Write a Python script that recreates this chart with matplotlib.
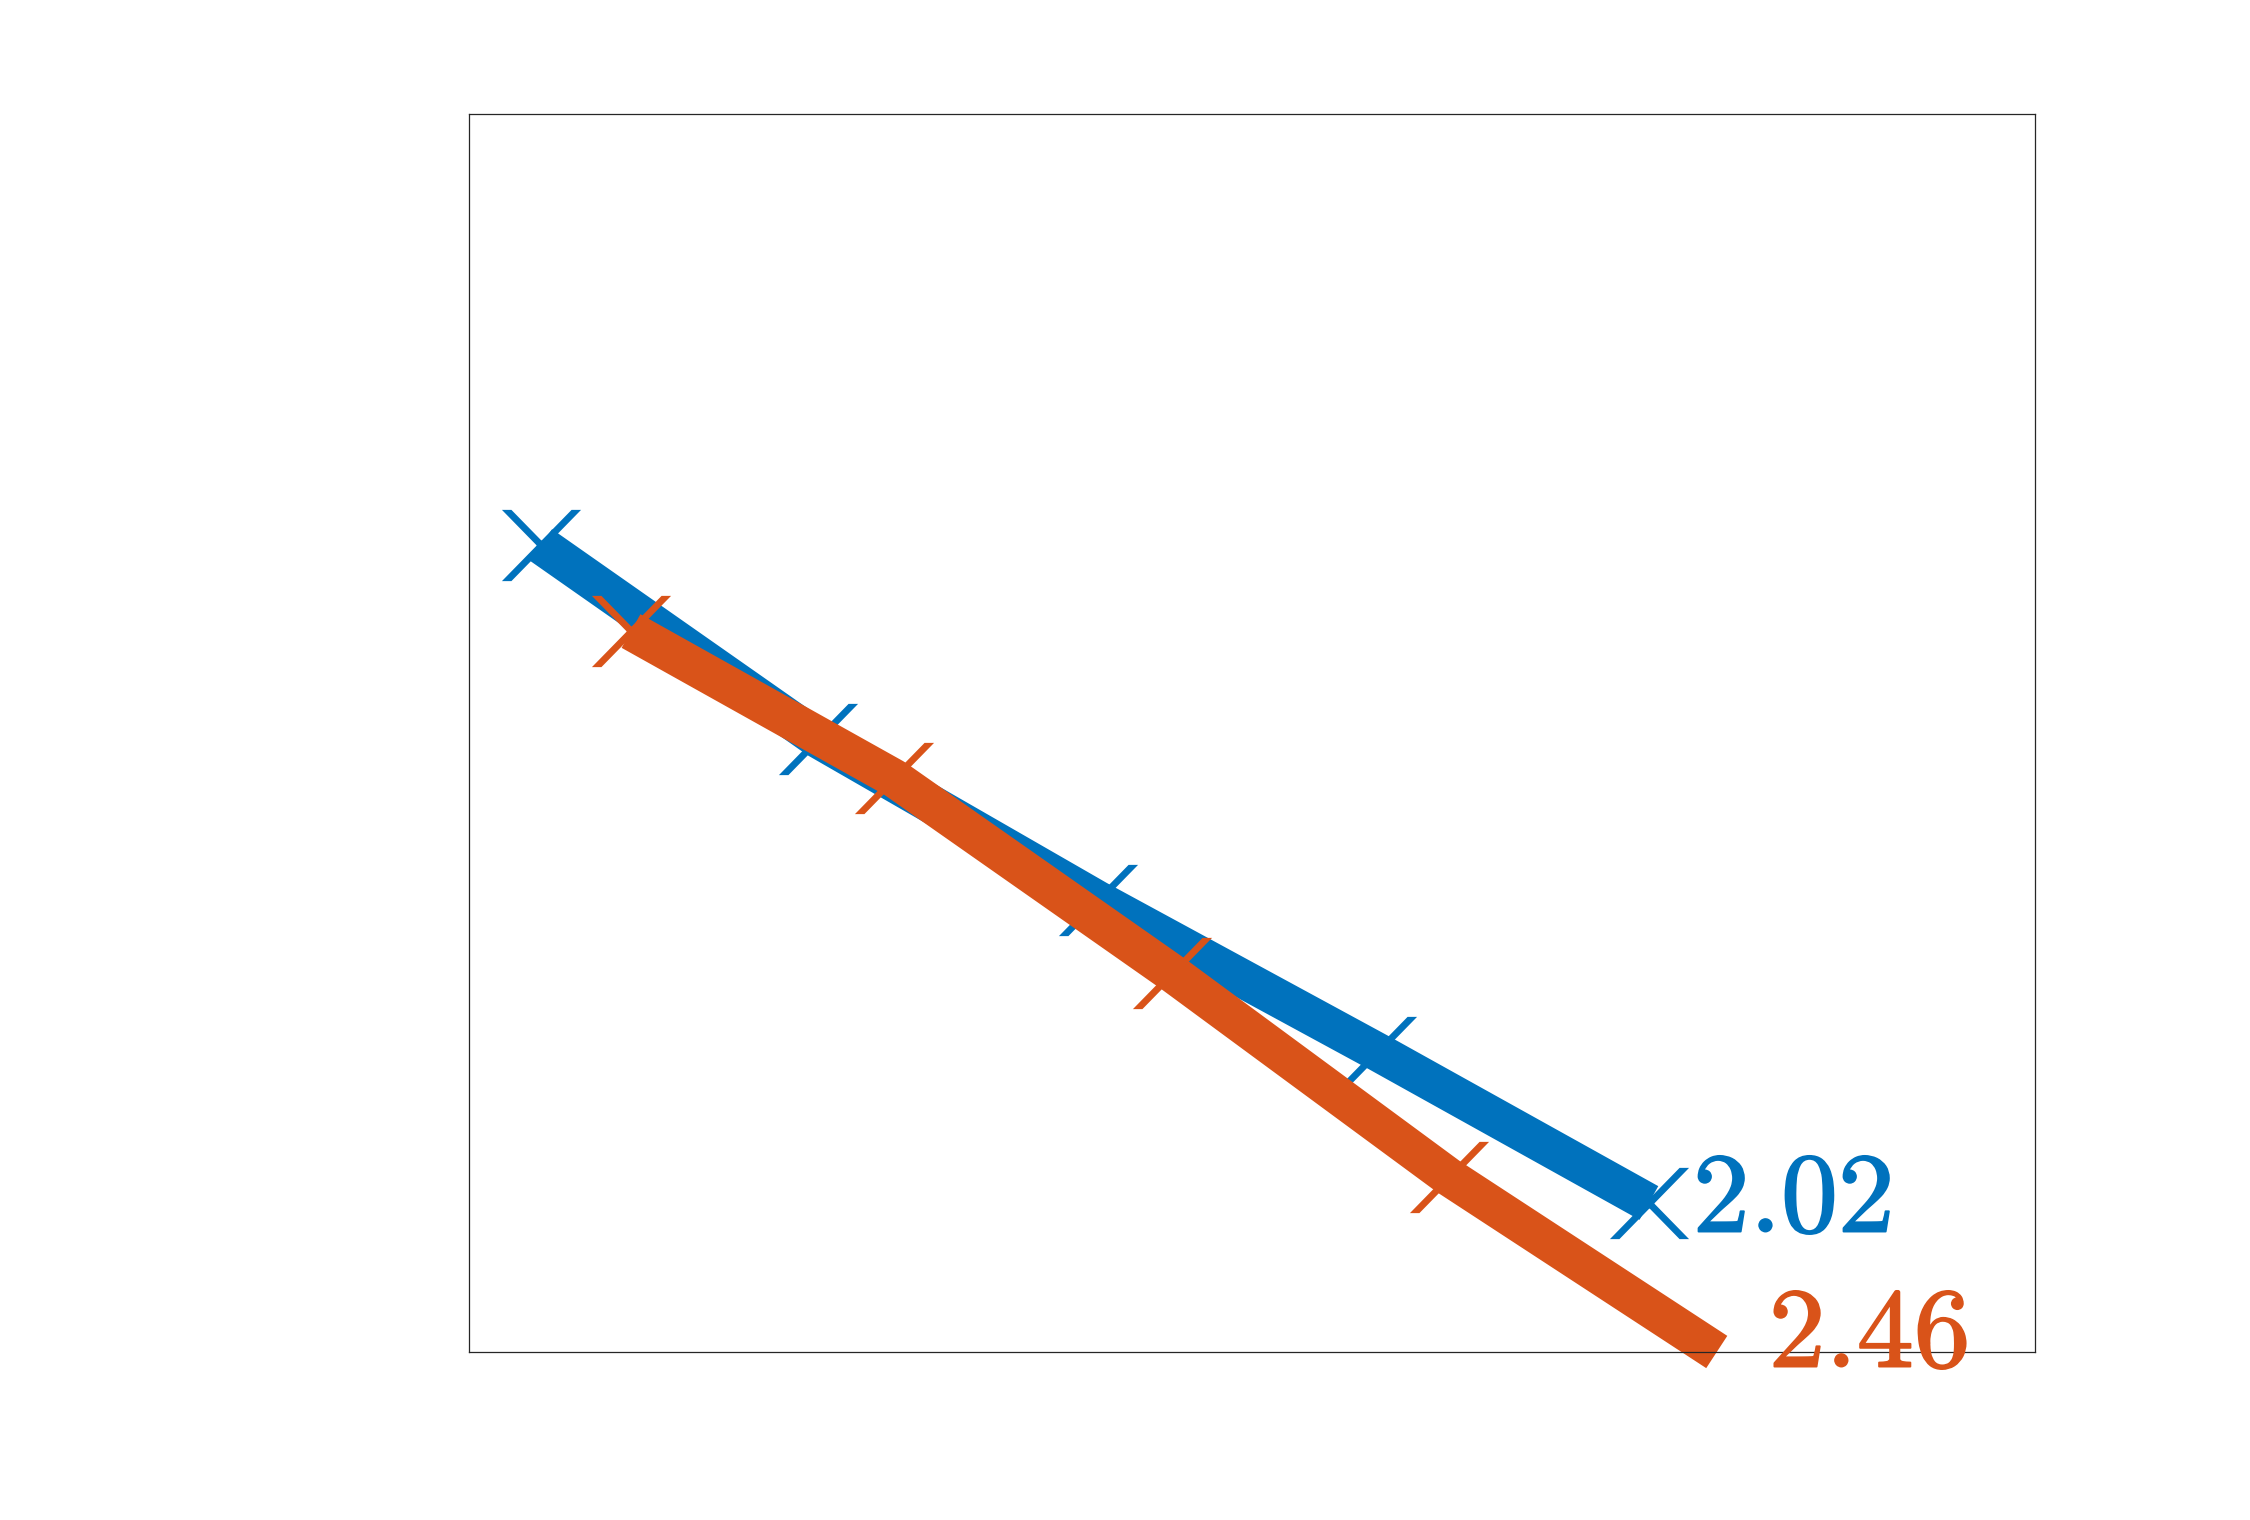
import numpy as np
import matplotlib
matplotlib.use('Agg')
import matplotlib.pyplot as plt
import matplotlib.patheffects as pe
from matplotlib.path import Path

plt.rcParams['mathtext.fontset'] = 'cm'

# data (no tick labels shown)
x_blue = [1.0, 2.0, 3.01, 4.02, 5.0]
y_blue = [5.215, 3.961, 2.921, 1.939, 0.963]
x_orange = [1.325, 2.274, 3.278, 4.278, 5.245]
y_orange = [4.659, 3.709, 2.449, 1.131, 0.0]
end_labels = ['2.02', '2.46']

blue = '#0072BD'
orange = '#D95319'

# x-shaped marker with horizontally cut arm ends
w, h = 0.24, 0.9
verts = [(-1, h), (-1 + w, h), (1, -h), (1 - w, -h), (0, 0),
         (1 - w, h), (1, h), (-1 + w, -h), (-1, -h), (0, 0)]
codes = [Path.MOVETO, Path.LINETO, Path.LINETO, Path.LINETO, Path.CLOSEPOLY] * 2
xmark = Path(verts, codes)

fig = plt.figure(figsize=(15, 1520 / 150), dpi=150)
ax = fig.add_axes([469 / 2250, 168 / 1520, 1566 / 2250, 1238 / 1520])

ax.plot(x_blue, y_blue, color=blue, lw=18.5, solid_capstyle='butt',
        solid_joinstyle='round', marker=xmark, ms=38, mew=0, mfc=blue,
        clip_on=False)
ax.plot(x_orange, y_orange, color=orange, lw=18.5, solid_capstyle='butt',
        solid_joinstyle='round', marker=xmark, ms=38, mew=0, mfc=orange,
        markevery=[0, 1, 2, 3], clip_on=False)

# end-of-line value labels (slightly heavier Computer Modern look)
for x, y, lab, col, off in [(x_blue[-1], y_blue[-1], end_labels[0], blue, (44, -29)),
                            (x_orange[-1], y_orange[-1], end_labels[1], orange, (52, -15))]:
    t = ax.annotate('$' + lab + '$', xy=(x, y), xytext=off,
                    textcoords='offset pixels', ha='left', va='baseline',
                    fontsize=54.5, color=col, annotation_clip=False)
    t.set_path_effects([pe.withStroke(linewidth=0.9, foreground=col)])

ax.set_xlim(0.74, 6.394)
ax.set_ylim(0, 8)
ax.set_xticks([])
ax.set_yticks([])
for sp in ax.spines.values():
    sp.set_color('#262626')
    sp.set_linewidth(0.6)

fig.savefig('out.png', dpi=150)
